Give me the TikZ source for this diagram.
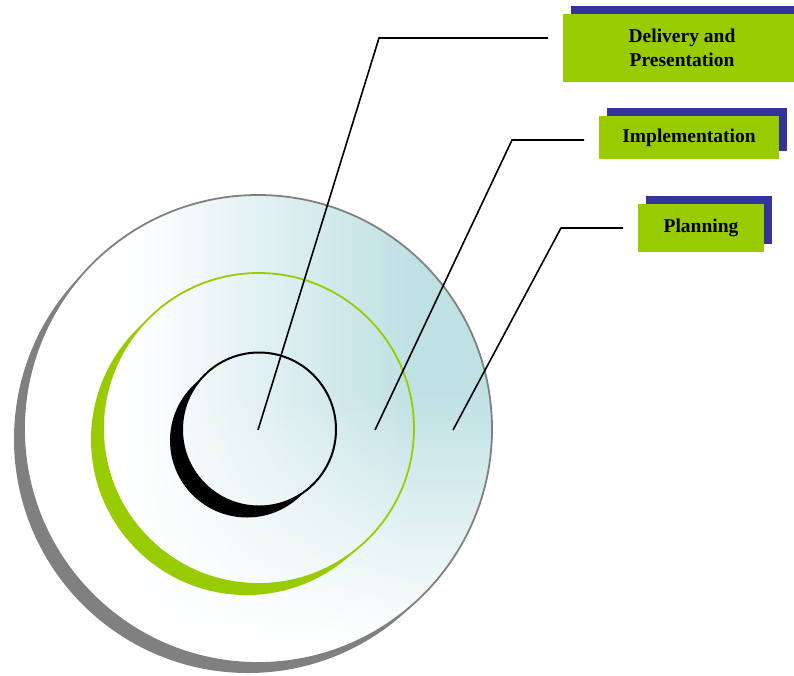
\documentclass[tikz,border=0pt]{standalone}
\usepackage{fontspec}
\setmainfont{Liberation Serif}
\usetikzlibrary{fadings}
\definecolor{lime}{RGB}{153,204,0}
\definecolor{navyblue}{RGB}{51,51,153}
\definecolor{tealbg}{RGB}{192,225,228}
\definecolor{shadowgray}{RGB}{128,128,128}
\tikzfading[name=fadedown, top color=transparent!100, bottom color=transparent!0]
\newcommand{\bgpaint}{%
  \fill[white] (20,190) rectangle (130,670);
  \shade[left color=white, right color=tealbg] (130,190) rectangle (410,670);
  \fill[tealbg] (410,190) rectangle (500,670);
  \fill[white, path fading=fadedown] (20,390) rectangle (500,645);
  \fill[white] (20,645) rectangle (500,670);
}
\tikzset{
  box/.style={fill=lime, inner sep=0pt, font=\bfseries\fontsize{19.5}{24}\selectfont, align=center},
  shadowbox/.style={fill=navyblue, inner sep=0pt},
  link/.style={draw=black, line width=1.6pt}
}
\begin{document}
\begin{tikzpicture}[x=1pt,y=-1pt]
\useasboundingbox (0,0) rectangle (794,675);
% outer disc
\fill[shadowgray] (248,439) circle[radius=234pt];
\begin{scope}
  \clip (258,429) circle[radius=234pt];
  \bgpaint
\end{scope}
\draw[shadowgray, line width=1.8pt] (258,429) circle[radius=234pt];
% middle ring
\fill[lime] (246.5,439.5) circle[radius=155.5pt];
\begin{scope}
  \clip (258.5,428.5) circle[radius=155.5pt];
  \bgpaint
\end{scope}
\draw[lime, line width=1.8pt] (258.5,428.5) circle[radius=155.5pt];
% inner disc
\fill[black] (247,440.5) circle[radius=77pt];
\begin{scope}
  \clip (259,429.5) circle[radius=77pt];
  \bgpaint
\end{scope}
\draw[black, line width=2pt] (259,429.5) circle[radius=77pt];
% boxes
\node[shadowbox, minimum width=238pt, minimum height=68pt] (s1) at (690,40) {};
\node[box, minimum width=238pt, minimum height=68pt] (b1) at (682,48) {Delivery and\\Presentation};
\node[shadowbox, minimum width=180pt, minimum height=43pt] (s2) at (697,129.5) {};
\node[box, minimum width=180pt, minimum height=43pt] (b2) at (689,137.5) {Implementation};
\node[shadowbox, minimum width=126pt, minimum height=48pt] (s3) at (709,220) {};
\node[box, minimum width=126pt, minimum height=48pt] (b3) at (701,228) {Planning};
% connectors
\coordinate (p1) at (258,430);
\coordinate (k1) at (379,38);
\coordinate (e1) at (548,38);
\coordinate (p2) at (375,430);
\coordinate (k2) at (512,140);
\coordinate (e2) at (584,140);
\coordinate (p3) at (453,430);
\coordinate (k3) at (561,228);
\coordinate (e3) at (623,228);
\draw[link] (p1) -- (k1) -- (e1);
\draw[link] (p2) -- (k2) -- (e2);
\draw[link] (p3) -- (k3) -- (e3);
\end{tikzpicture}
\end{document}
